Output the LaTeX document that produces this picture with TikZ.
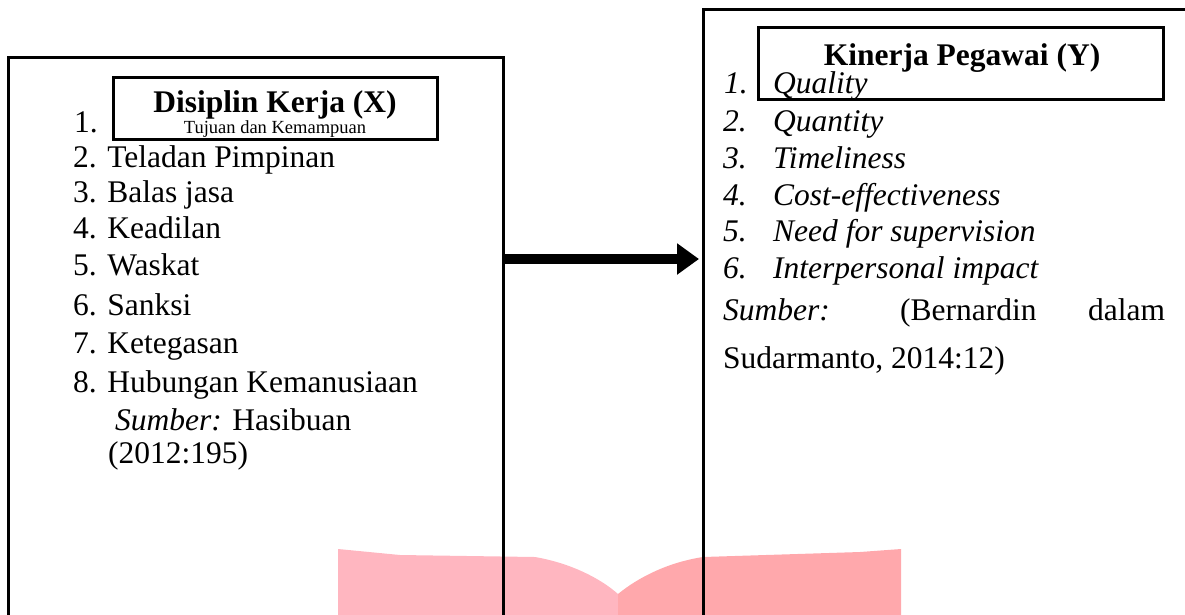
\documentclass[tikz,border=0pt]{standalone}
\usepackage{fontspec}
\setmainfont{Liberation Serif}
\usepackage{xcolor}
\definecolor{Book-left}{RGB}{255, 182, 192}
\definecolor{Book-right}{RGB}{255, 168, 172}
\usetikzlibrary{arrows.meta,positioning,calc}

\begin{document}
\begin{tikzpicture} [ % 先定义样式
    x=1pt, y=-1pt, >=stealth,
    frame/.style = {shape = rectangle, draw = black, line width = 3pt, inner sep = 0pt},
    item/.style = {anchor = base west, inner sep = 0pt, font = \fontsize{31.5}{38}\selectfont},
    head/.style = {anchor = base, inner sep = 0pt, font = \fontsize{31.5}{36}\selectfont\bfseries},
    sub/.style = {anchor = base, inner sep = 0pt, font = \fontsize{18.5}{22}\selectfont},
    flow/.style = {line width = 10pt, -{Triangle[length=22pt, width=30pt]}}
]

\path [use as bounding box, clip] (0,0) rectangle (1185,614);

% 粉色书本
\fill [Book-left] (338,549) -- (400,555) -- (535,557) .. controls (570,563) and (600,578) .. (618,594) -- (618,620) -- (338,620) -- cycle;
\fill [Book-right] (618,594) .. controls (640,576) and (670,562) .. (703,557) -- (860,552) -- (901,549) -- (901,620) -- (618,620) -- cycle;

% 两个大框
\node [frame, minimum width = 495, minimum height = 583] (boxX) at (255.5,348.5){};
\node [frame, minimum width = 497, minimum height = 631] (boxY) at (951.5,324.5){};

% 标题框
\node [frame, minimum width = 324, minimum height = 62] (titleX) at (275,108){};
\node [frame, minimum width = 405, minimum height = 72] (titleY) at (960.5,63){};

\node [head] (tX) at (275,112){Disiplin Kerja (X)};
\node [sub] (tX2) at (275,133){Tujuan dan Kemampuan};
\node [head] (tY) at (962,65){Kinerja Pegawai (Y)};

% 左边列表
\node [item] (x1) at (74,132){1.};
\node [item] (x2) at (73,167){2. Teladan Pimpinan};
\node [item] (x3) at (73,202){3. Balas jasa};
\node [item] (x4) at (73,238){4. Keadilan};
\node [item] (x5) at (73,275){5. Waskat};
\node [item] (x6) at (73,315){6. Sanksi};
\node [item] (x7) at (73,353){7. Ketegasan};
\node [item] (x8) at (73,392){8. Hubungan Kemanusiaan};
\node [item] (xs) at (115,430){\textit{Sumber:} Hasibuan};
\node [item] (xs2) at (108,463){(2012:195)};

% 右边列表
\node [item] (y1) at (724,93){\textit{1.}};
\node [item] (y1t) at (773,93){\textit{Quality}};
\node [item] (y2) at (723,131){\textit{2.}};
\node [item] (y2t) at (773,131){\textit{Quantity}};
\node [item] (y3) at (723,168){\textit{3.}};
\node [item] (y3t) at (773,168){\textit{Timeliness}};
\node [item] (y4) at (723,205){\textit{4.}};
\node [item] (y4t) at (773,205){\textit{Cost-effectiveness}};
\node [item] (y5) at (723,241){\textit{5.}};
\node [item] (y5t) at (773,241){\textit{Need for supervision}};
\node [item] (y6) at (723,278){\textit{6.}};
\node [item] (y6t) at (773,278){\textit{Interpersonal impact}};
\node [item] (ys) at (723,320){\textit{Sumber:}};
\node [item] (ysb) at (900,320){(Bernardin};
\node [item] (ysd) at (1088,320){dalam};
\node [item] (ys2) at (723,368){Sudarmanto, 2014:12)};

% 箭头
\coordinate (arrS) at (503,259);
\coordinate (arrE) at (699,259);
\draw [flow] (arrS)--(arrE);

\end{tikzpicture}
\end{document}
